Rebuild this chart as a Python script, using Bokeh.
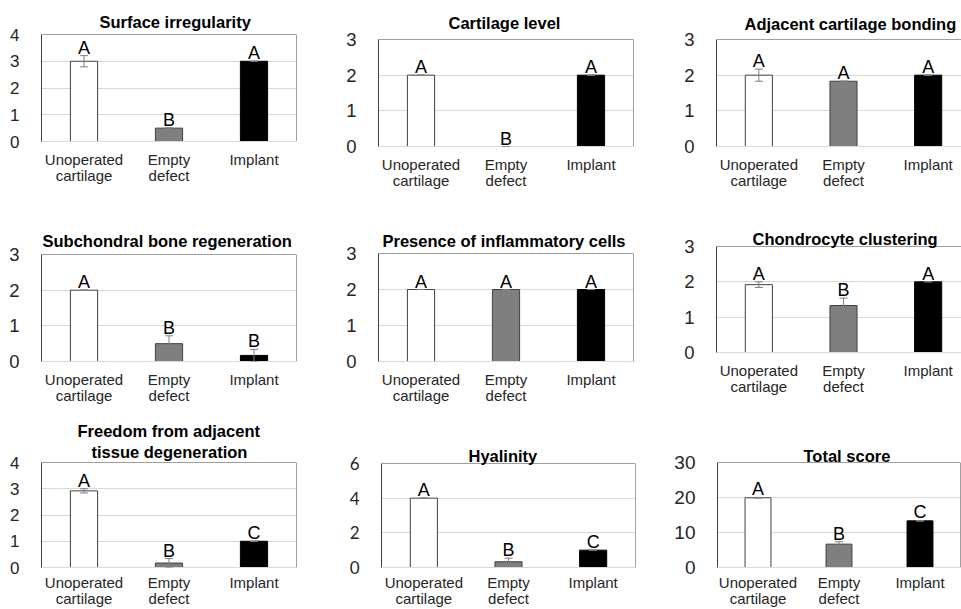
from bokeh.plotting import figure
from bokeh.layouts import column, row
from bokeh.models import (ColumnDataSource, Whisker, TeeHead, Title, FixedTicker,
                          Range1d, Span)
from bokeh.core.properties import value
from bokeh.embed import file_html
from bokeh.resources import INLINE

# ---------------- data ----------------
groups = ["Unoperated\ncartilage", "Empty\ndefect", "Implant"]

titles = ["Surface irregularity", "Cartilage level", "Adjacent cartilage bonding",
          "Subchondral bone regeneration", "Presence of inflammatory cells",
          "Chondrocyte clustering", "Freedom from adjacent\ntissue degeneration",
          "Hyalinity", "Total score"]
y_max = [4, 3, 3, 3, 3, 3, 4, 6, 30]
y_step = [1, 1, 1, 1, 1, 1, 1, 2, 10]

surface_mean = [3.0, 0.5, 3.0]
surface_sd = [0.21, 0.0, 0.0]
surface_sig = ["A", "B", "A"]

level_mean = [2.0, 0.0, 2.0]
level_sd = [0.0, 0.0, 0.0]
level_sig = ["A", "B", "A"]

bonding_mean = [2.0, 1.83, 2.0]
bonding_sd = [0.17, 0.0, 0.0]
bonding_sig = ["A", "A", "A"]

subchondral_mean = [2.0, 0.5, 0.17]
subchondral_sd = [0.0, 0.22, 0.17]
subchondral_sig = ["A", "B", "B"]

inflammatory_mean = [2.0, 2.0, 2.0]
inflammatory_sd = [0.0, 0.0, 0.0]
inflammatory_sig = ["A", "A", "A"]

clustering_mean = [1.92, 1.33, 2.0]
clustering_sd = [0.08, 0.21, 0.0]
clustering_sig = ["A", "B", "A"]

freedom_mean = [2.92, 0.17, 1.0]
freedom_sd = [0.08, 0.17, 0.0]
freedom_sig = ["A", "B", "C"]

hyalinity_mean = [4.0, 0.33, 1.0]
hyalinity_sd = [0.0, 0.21, 0.0]
hyalinity_sig = ["A", "B", "C"]

total_mean = [19.92, 6.67, 13.33]
total_sd = [0.1, 0.7, 0.1]
total_sig = ["A", "B", "C"]

means = [surface_mean, level_mean, bonding_mean, subchondral_mean, inflammatory_mean,
         clustering_mean, freedom_mean, hyalinity_mean, total_mean]
sds = [surface_sd, level_sd, bonding_sd, subchondral_sd, inflammatory_sd,
       clustering_sd, freedom_sd, hyalinity_sd, total_sd]
sigs = [surface_sig, level_sig, bonding_sig, subchondral_sig, inflammatory_sig,
        clustering_sig, freedom_sig, hyalinity_sig, total_sig]

# ---------------- layout / style ----------------
# (fig_w, fig_h, border_left, border_right, border_top, border_bottom, full_frame_w)
layout_cfg = [
    (336, 200, 41, 40, 34, 59, 255),
    (324, 200, 42, 27, 39, 54, 255),
    (301, 200, 56, 0, 39, 54, 254),
    (336, 210, 41, 40, 54, 49, 255),
    (324, 210, 42, 27, 53, 49, 255),
    (301, 210, 56, 0, 46, 58, 254),
    (336, 199, 41, 40, 52, 41, 255),
    (324, 199, 45, 25, 53, 41, 254),
    (301, 199, 57, 1, 52, 41, 243),
]
# per title line: (left offset px, standoff px)
title_cfg = [
    [(58, 7)], [(70, 15)], [(28, 13)],
    [(1, 9)], [(4, 7)], [(36, -3)],
    [(36, 0), (50, 3)], [(87, -3)], [(86, -5)],
]
ytick_size = ["17px", "18.5px", "18.5px", "18.5px", "18.5px", "18.5px", "17px", "17px", "19px"]
xlabel_standoff = [3, 3, 3, 3, 3, 3, 0, 0, 0]
bar_fill = ["#ffffff", "#7f7f7f", "#000000"]
bar_line = ["#404040", "#404040", "#000000"]
FONT = "Liberation Sans"
TEXT_COL = "#262626"
FRAME_COL = "#404040"
GRID_COL = "#d9d9d9"
ERR_COL = "#7f7f7f"

figs = []
for i in range(9):
    fw, fh, bl, br, bt, bb, full_w = layout_cfg[i]
    frame_w = fw - bl - br
    x_end = -0.5 + 3 * frame_w / full_w
    lines = titles[i].split("\n")
    tc = title_cfg[i]
    p = figure(width=fw, height=fh, output_backend="svg", toolbar_location=None,
               x_range=Range1d(-0.5, x_end), y_range=Range1d(0, y_max[i]),
               min_border_left=bl, min_border_right=br, min_border_top=bt,
               min_border_bottom=bb, background_fill_color="white",
               border_fill_color="white", outline_line_color=None)
    # title (first line = outermost)
    p.title.text = lines[0]
    p.title.align = "left"
    p.title.offset = tc[0][0]
    p.title.standoff = tc[0][1]
    p.title.text_font = FONT
    p.title.text_font_style = "bold"
    p.title.text_font_size = "16.5px"
    p.title.text_color = "#000000"
    for j in range(len(lines) - 1, 0, -1):
        p.add_layout(Title(text=lines[j], align="left", offset=tc[j][0], standoff=tc[j][1],
                           text_font=FONT, text_font_style="bold", text_font_size="16.5px",
                           text_color="#000000"), "above")

    xs = [0, 1, 2]
    upper = [m + s for m, s in zip(means[i], sds[i])]
    lower = [m - s for m, s in zip(means[i], sds[i])]
    src = ColumnDataSource(dict(x=xs, top=means[i], upper=upper, lower=lower,
                                fill=bar_fill, line=bar_line, sig=sigs[i]))
    p.vbar(x="x", top="top", bottom=0, width=0.32, fill_color="fill",
           line_color="line", line_width=1, source=src)
    wk = Whisker(source=src, base="x", upper="upper", lower="lower",
                 line_color=ERR_COL, line_width=1, level="overlay",
                 upper_head=TeeHead(size=8, line_color=ERR_COL, line_width=1),
                 lower_head=TeeHead(size=8, line_color=ERR_COL, line_width=1))
    p.add_layout(wk)
    p.text(x="x", y="upper", text="sig", source=src, text_align="center",
           text_baseline="alphabetic", y_offset=-8, text_font=value(FONT),
           text_font_size="18px", text_color="#000000")

    # axes
    p.xaxis.ticker = FixedTicker(ticks=xs)
    p.xaxis.major_label_overrides = {k: g for k, g in zip(xs, groups)}
    p.xaxis.major_label_text_font = FONT
    p.xaxis.major_label_text_font_size = "15px"
    p.xaxis.major_label_text_line_height = 0.96
    p.xaxis.major_label_text_color = TEXT_COL
    p.xaxis.major_label_standoff = xlabel_standoff[i]
    p.xaxis.axis_line_color = GRID_COL
    p.xaxis.major_tick_line_color = None
    p.xaxis.minor_tick_line_color = None

    p.yaxis.ticker = FixedTicker(ticks=list(range(0, y_max[i] + 1, y_step[i])))
    p.yaxis.major_label_text_font = "Lato" if i == 7 else FONT
    p.yaxis.major_label_text_font_size = ytick_size[i]
    p.yaxis.major_label_text_color = TEXT_COL
    p.yaxis.major_label_standoff = 16
    p.yaxis.axis_line_color = FRAME_COL
    p.yaxis.major_tick_line_color = None
    p.yaxis.minor_tick_line_color = None

    p.xgrid.grid_line_color = None
    p.ygrid.grid_line_color = GRID_COL

    # frame top / right border
    p.add_layout(Span(location=y_max[i], dimension="width", line_color=FRAME_COL, line_width=1))
    if frame_w == full_w:
        p.add_layout(Span(location=x_end, dimension="height", line_color=FRAME_COL, line_width=1))
    figs.append(p)

# wrap every figure on its own so that frames are not aligned across a row
cells = [column(f) for f in figs]
layout = column(row(*cells[0:3]), row(*cells[3:6]), row(*cells[6:9]))
open("out.html", "w").write(file_html(layout, INLINE))
